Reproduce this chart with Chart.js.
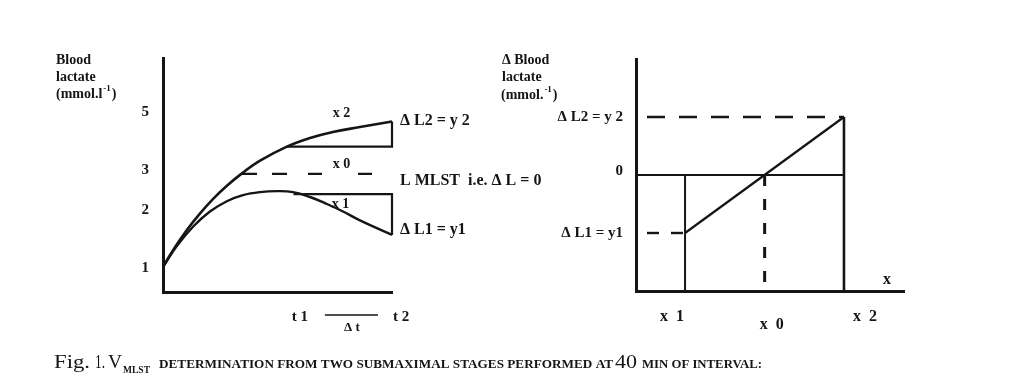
<!DOCTYPE html>
<html>
<head>
<meta charset="utf-8">
<script src="https://cdn.jsdelivr.net/npm/chart.js@4.4.0/dist/chart.umd.min.js"></script>
<style>
html, body { margin: 0; padding: 0; background: #fff; }
#wrap { position: relative; width: 1024px; height: 377px; overflow: hidden; }
canvas { position: absolute; left: 0; top: 0; }
</style>
</head>
<body>
<div id="wrap">
  <canvas id="leftChart" width="1024" height="377"></canvas>
  <canvas id="rightChart" width="1024" height="377"></canvas>
</div>
<script>
// left panel: lactate vs time (schematic units)
var upperT = [0, 0.44, 1.05, 1.62, 2.18, 2.79, 3.49, 4.24, 5.41, 6.42, 7.42, 8.6, 10];
var upperL = [1.07, 1.79, 2.66, 3.36, 3.97, 4.54, 5.1, 5.61, 6.21, 6.58, 6.84, 7.05, 7.29];
var lowerT = [0, 0.61, 1.31, 2.05, 2.79, 3.49, 4.24, 4.98, 5.68, 6.42, 7.16, 7.86, 8.6, 10];
var lowerL = [1.07, 1.97, 2.79, 3.44, 3.88, 4.14, 4.27, 4.31, 4.27, 4.06, 3.76, 3.44, 3.06, 2.44];
var upperBoxT = [5.41, 10, 10];
var upperBoxL = [6.21, 6.21, 7.29];
var lowerBoxT = [5.7, 10, 10];
var lowerBoxL = [4.18, 4.18, 2.44];
var mlstT = [3.45, 9.13];
var mlstL = [5.05, 5.05];
var leftTickAt = [7.7, 5.2, 3.5, 1.0];
var leftTickText = ['5', '3', '2', '1'];
var timeTickAt = [5.98, 10.4];
var timeTickText = ['t 1', 't 2'];

// right panel: delta lactate vs x
var stageX = [1.83, 7.76];      // x1, x2
var stageDL = [-2.5, 2.5];      // ΔL1, ΔL2
var zeroX = 4.8;                // x0
var stageText = ['x  1', 'x  2'];
var stageDLText = ['\u0394 L1 = y1', '\u0394 L2 = y 2'];

var INK = '#151515';
var FONT = '"Liberation Serif", "DejaVu Serif", serif';

function pts(xs, ys) {
    return xs.map(function (x, i) { return {x: x, y: ys[i]}; });
}

function line(xs, ys, w, dash, curve) {
    return {
        data: pts(xs, ys),
        borderColor: INK,
        borderWidth: w,
        borderDash: dash || [],
        pointRadius: 0,
        fill: false,
        clip: false,
        tension: curve ? 0.4 : 0
    };
}

function txt(ctx, s, x, y, size, align, weight) {
    ctx.save();
    ctx.font = (weight || 'bold') + ' ' + size + 'px ' + FONT;
    ctx.textAlign = align || 'left';
    ctx.textBaseline = 'middle';
    ctx.fillStyle = INK;
    ctx.fillText(s, x, y);
    ctx.restore();
}

// text stretched to the width it has in the scan
function txtW(ctx, s, x, y, font, width) {
    ctx.save();
    ctx.font = font;
    ctx.fillStyle = INK;
    ctx.textBaseline = 'alphabetic';
    var w = ctx.measureText(s).width;
    ctx.translate(x, y);
    ctx.scale(width / w, 1);
    ctx.fillText(s, 0, 0);
    ctx.restore();
}

// "(mmol.l-1)" with raised exponent
function unitTxt(ctx, head, x, y) {
    ctx.save();
    ctx.font = 'bold 14px ' + FONT;
    ctx.textBaseline = 'middle';
    ctx.fillStyle = INK;
    ctx.fillText(head, x, y);
    var w = ctx.measureText(head).width;
    ctx.font = 'bold 9px ' + FONT;
    ctx.fillText('-1', x + w + 1, y - 5);
    var w2 = ctx.measureText('-1').width;
    ctx.font = 'bold 14px ' + FONT;
    ctx.fillText(')', x + w + w2 + 2, y);
    ctx.restore();
}

function axisOpts(min, max) {
    return {
        type: 'linear', min: min, max: max,
        grid: {display: false, drawTicks: false, tickLength: 0},
        ticks: {display: false},
        border: {display: true, width: 3, color: INK}
    };
}

var leftText = {
    id: 'leftText',
    afterDraw: function (chart) {
        var ctx = chart.ctx, xs = chart.scales.x, ys = chart.scales.y, a = chart.chartArea;
        txt(ctx, 'Blood', 56, 60, 14);
        txt(ctx, 'lactate', 56, 77, 14);
        unitTxt(ctx, '(mmol.l', 56, 94);
        leftTickAt.forEach(function (v, i) {
            txt(ctx, leftTickText[i], a.left - 14, ys.getPixelForValue(v), 15, 'right');
        });
        timeTickAt.forEach(function (v, i) {
            txt(ctx, timeTickText[i], xs.getPixelForValue(v), a.bottom + 25, 15, 'center');
        });
        // delta t bar
        var y0 = a.bottom + 23;
        ctx.save();
        ctx.strokeStyle = INK; ctx.lineWidth = 1.5;
        ctx.beginPath();
        ctx.moveTo(xs.getPixelForValue(7.07), y0);
        ctx.lineTo(xs.getPixelForValue(9.39), y0);
        ctx.stroke();
        ctx.restore();
        txt(ctx, '\u0394 t', xs.getPixelForValue(8.25), a.bottom + 36, 13, 'center');

        txt(ctx, 'x 2', xs.getPixelForValue(7.8), ys.getPixelForValue(7.65), 14, 'center');
        txt(ctx, 'x 0', xs.getPixelForValue(7.8), ys.getPixelForValue(5.45), 14, 'center');
        txt(ctx, 'x 1', xs.getPixelForValue(7.75), ys.getPixelForValue(3.75), 14, 'center');

        var lx = xs.getPixelForValue(10) + 8;
        txt(ctx, '\u0394 L2 = y 2', lx, ys.getPixelForValue(7.3), 16);
        txt(ctx, 'L MLST  i.e. \u0394 L = 0', lx, ys.getPixelForValue(4.75), 16);
        txt(ctx, '\u0394 L1 = y1', lx, ys.getPixelForValue(2.65), 16);

        // caption
        var by = 368;
        txtW(ctx, 'Fig.', 54, by, '18px ' + FONT, 36);
        txtW(ctx, '1.', 95, by, '18px ' + FONT, 10);
        txtW(ctx, 'V', 108, by, '18px ' + FONT, 14);
        txtW(ctx, 'MLST', 123, by + 5, 'bold 11px ' + FONT, 27);
        txtW(ctx, 'DETERMINATION FROM TWO SUBMAXIMAL STAGES PERFORMED AT', 159, by, 'bold 12.5px ' + FONT, 454);
        txtW(ctx, '40', 615, by, '18px ' + FONT, 22);
        txtW(ctx, 'MIN OF INTERVAL:', 642, by, 'bold 12.5px ' + FONT, 120);
    }
};

var rightText = {
    id: 'rightText',
    afterDraw: function (chart) {
        var ctx = chart.ctx, xs = chart.scales.x, ys = chart.scales.y, a = chart.chartArea;
        txt(ctx, '\u0394 Blood', 502, 60, 14);
        txt(ctx, 'lactate', 502, 77, 14);
        unitTxt(ctx, '(mmol.', 501, 95);
        stageDL.forEach(function (v, i) {
            txt(ctx, stageDLText[i], a.left - 13, ys.getPixelForValue(v), 15, 'right');
        });
        txt(ctx, '0', a.left - 13, ys.getPixelForValue(0) - 4, 15, 'right');
        txt(ctx, stageText[0], xs.getPixelForValue(stageX[0]) - 13, a.bottom + 26, 16, 'center');
        txt(ctx, stageText[1], xs.getPixelForValue(stageX[1]) + 21, a.bottom + 26, 16, 'center');
        txt(ctx, 'x  0', xs.getPixelForValue(zeroX) + 7, a.bottom + 34, 16, 'center');
        txt(ctx, 'x', a.right - 17, a.bottom - 11, 16, 'center');
    }
};

new Chart(document.getElementById('leftChart'), {
    type: 'line',
    data: {
        datasets: [
            line(upperT, upperL, 2.6, null, true),
            line(lowerT, lowerL, 2.4, null, true),
            line(upperBoxT, upperBoxL, 2.2),
            line(lowerBoxT, lowerBoxL, 2.2),
            line(mlstT, mlstL, 2.4, [15, 15, 15, 21, 14, 36, 14])
        ]
    },
    options: {
        responsive: false,
        animation: false,
        layout: {padding: {left: 163, right: 1024 - 392, top: 58, bottom: 377 - 292}},
        plugins: {legend: {display: false}, tooltip: {enabled: false}},
        scales: {x: axisOpts(0, 10), y: axisOpts(0, 10)}
    },
    plugins: [leftText]
});

new Chart(document.getElementById('rightChart'), {
    type: 'line',
    data: {
        datasets: [
            line([0, stageX[1]], [0, 0], 2),
            line([stageX[1], stageX[1]], [-5, stageDL[1]], 2.6),
            line([stageX[0], stageX[0]], [-5, 0], 2),
            line(stageX, stageDL, 2.2),
            line([0.41, stageX[1]], [stageDL[1], stageDL[1]], 2.4, [18, 14]),
            line([0.41, stageX[0]], [stageDL[0], stageDL[0]], 2.4, [12, 12]),
            line([zeroX, zeroX], [0, -5], 3, [11, 13])
        ]
    },
    options: {
        responsive: false,
        animation: false,
        layout: {padding: {left: 636, right: 1024 - 904, top: 59, bottom: 377 - 291}},
        plugins: {legend: {display: false}, tooltip: {enabled: false}},
        scales: {x: axisOpts(0, 10), y: axisOpts(-5, 5)}
    },
    plugins: [rightText]
});
</script>
</body>
</html>
